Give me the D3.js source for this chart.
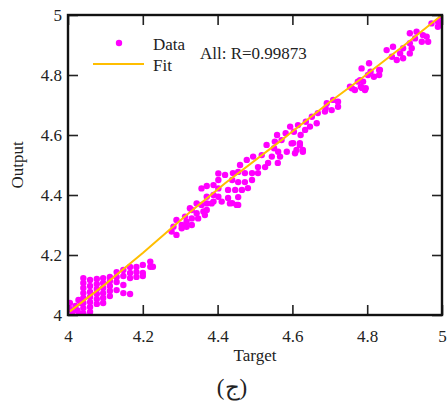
<!DOCTYPE html>
<html>
<head>
<meta charset="utf-8">
<script src="https://d3js.org/d3.v7.min.js"></script>
<style>
  body { margin: 0; background: #fff; }
  svg text { font-family: "Liberation Serif", "Times New Roman", serif; fill: #222; }
</style>
</head>
<body>
<svg id="chart" width="448" height="405"></svg>
<script>
// scatter values (target, output)
var dataTarget = [
  4.005,4.005,4.012,4.02,4.025,4.03,4.035,4.028,
  4.041,4.041,4.041,4.041,4.041,4.041,4.041,4.041,
  4.059,4.059,4.059,4.059,4.059,4.059,4.059,
  4.077,4.077,4.077,4.077,4.077,4.077,
  4.094,4.094,4.094,4.094,4.094,4.094,
  4.112,4.112,4.112,4.112,4.112,
  4.13,4.13,4.13,4.13,
  4.148,4.148,4.148,4.148,
  4.166,4.166,4.166,4.166,
  4.183,4.183,4.183,
  4.2,4.2,4.2,
  4.22,4.22,4.227,
  // 4.27 - 4.45
  4.277,4.282,4.29,4.29,4.304,4.304,4.313,4.317,4.317,4.326,
  4.331,4.331,4.331,4.344,4.344,4.348,4.357,4.357,4.362,4.366,
  4.371,4.371,4.371,4.371,4.384,4.389,4.389,4.389,4.402,4.402,
  4.402,4.402,4.411,4.433,4.451,
  // 4.42 - 4.63
  4.531,4.553,4.571,4.598,4.62,4.562,4.585,4.607,4.628,4.518,
  4.545,4.567,4.495,4.478,4.535,4.561,4.46,4.508,4.527,4.441,
  4.455,4.473,4.492,4.508,4.42,4.439,4.455,4.473,4.492,4.428,
  4.447,4.465,4.481,4.428,4.455,4.439,4.455,
  4.559,4.582,4.604,4.622,4.551,
  // 4.59 - 4.73
  4.594,4.615,4.634,4.647,4.665,4.652,4.668,4.687,4.692,4.709,
  4.722,4.722,4.705,4.602,4.62,4.611,4.628,4.636,4.689,
  // 4.75 - 4.84
  4.754,4.775,4.789,4.767,4.786,4.759,4.783,4.796,4.785,4.805,
  4.832,4.809,4.832,4.818,4.802,4.781,4.794,
  // 4.85 - 5
  4.999,4.989,4.972,4.998,4.989,4.914,4.932,4.949,4.959,4.928,
  4.946,4.963,4.914,4.869,4.852,4.896,4.919,4.888,4.914,4.896,
  4.866,4.879,4.834
];
var dataOutput = [
  4.04,4.02,4.01,4.03,4.015,4.005,4.04,4.05,
  4.123,4.107,4.09,4.073,4.057,4.04,4.023,4.005,
  4.117,4.097,4.077,4.06,4.043,4.027,4.01,
  4.12,4.103,4.087,4.07,4.053,4.037,
  4.123,4.107,4.09,4.073,4.057,4.04,
  4.127,4.113,4.097,4.08,4.063,
  4.143,4.127,4.11,4.083,
  4.15,4.13,4.1,4.073,
  4.16,4.14,4.123,4.07,
  4.16,4.143,4.127,
  4.167,4.14,4.13,
  4.178,4.161,4.161,
  // 4.27 - 4.45
  4.278,4.294,4.267,4.317,4.289,4.3,4.328,4.311,4.294,4.356,
  4.35,4.322,4.3,4.372,4.339,4.322,4.422,4.367,4.345,4.333,
  4.43,4.394,4.372,4.35,4.372,4.4,4.433,4.378,4.472,4.45,
  4.422,4.394,4.378,4.372,4.367,
  // 4.42 - 4.63
  4.567,4.578,4.583,4.572,4.567,4.544,4.544,4.539,4.544,4.533,
  4.528,4.528,4.528,4.517,4.507,4.507,4.5,4.493,4.493,4.473,
  4.477,4.473,4.473,4.473,4.467,4.45,4.443,4.443,4.45,4.417,
  4.417,4.417,4.423,4.39,4.393,4.373,4.367,
  4.6,4.606,4.611,4.6,4.556,
  // 4.59 - 4.73
  4.628,4.633,4.617,4.628,4.639,4.661,4.673,4.678,4.706,4.717,
  4.711,4.694,4.683,4.573,4.573,4.55,4.55,4.644,4.689,
  // 4.75 - 4.84
  4.761,4.778,4.778,4.75,4.757,4.756,4.761,4.756,4.822,4.839,
  4.817,4.811,4.8,4.794,4.8,4.783,4.75,
  // 4.85 - 5
  4.994,4.978,4.972,4.972,4.961,4.939,4.944,4.933,4.928,4.922,
  4.911,4.911,4.906,4.894,4.883,4.889,4.889,4.872,4.872,4.856,
  4.861,4.85,4.817
];

// fit line
var fitTarget = [4.005, 4.1, 4.166, 4.2, 4.317, 4.42, 4.571, 4.594, 4.7, 4.781, 4.9, 5.0];
var fitOutput = [4.012, 4.103, 4.172, 4.207, 4.333, 4.439, 4.583, 4.606, 4.71, 4.785, 4.9, 5.0];

var ticks = [4, 4.2, 4.4, 4.6, 4.8, 5];
var tickLabels = ["4", "4.2", "4.4", "4.6", "4.8", "5"];

var plotLeft = 68, plotTop = 15, w = 374, h = 300;
var fontSize = 17;

var svg = d3.select("#chart");

var x = d3.scaleLinear().domain([4, 5]).range([plotLeft, plotLeft + w]);
var y = d3.scaleLinear().domain([4, 5]).range([plotTop + h, plotTop]);

svg.append("clipPath").attr("id", "plotclip")
  .append("rect").attr("x", plotLeft).attr("y", plotTop).attr("width", w).attr("height", h);

var plot = svg.append("g").attr("clip-path", "url(#plotclip)");

var pts = dataTarget.map(function (t, i) { return { t: t, o: dataOutput[i] }; });

plot.selectAll("circle.pt")
  .data(pts)
  .enter()
  .append("circle")
  .attr("class", "pt")
  .attr("cx", function (d) { return x(d.t); })
  .attr("cy", function (d) { return y(d.o); })
  .attr("r", 3.2)
  .style("fill", "#ff00ff");

var fit = fitTarget.map(function (t, i) { return [t, fitOutput[i]]; });
plot.append("path")
  .datum(fit)
  .attr("d", d3.line().x(function (d) { return x(d[0]); }).y(function (d) { return y(d[1]); }))
  .style("fill", "none")
  .style("stroke", "#ffbe00")
  .style("stroke-width", 2);

// axes (ticks inward on all four sides)
function styleAxis(g) {
  g.select(".domain").remove();
  g.selectAll(".tick line").style("stroke", "#222").style("stroke-width", 1.6);
  g.selectAll("text").style("font-size", fontSize + "px").style("fill", "#222");
}

svg.append("g")
  .attr("transform", "translate(0," + (plotTop + h) + ")")
  .call(d3.axisBottom(x).tickValues(ticks).tickSize(-10).tickPadding(15)
    .tickFormat(function (d, i) { return tickLabels[i]; }))
  .call(styleAxis);

svg.append("g")
  .attr("transform", "translate(" + plotLeft + ",0)")
  .call(d3.axisLeft(y).tickValues(ticks).tickSize(-10).tickPadding(6)
    .tickFormat(function (d, i) { return tickLabels[i]; }))
  .call(styleAxis);

svg.append("g")
  .attr("transform", "translate(0," + plotTop + ")")
  .call(d3.axisTop(x).tickValues(ticks).tickSize(-10).tickFormat(""))
  .call(styleAxis);

svg.append("g")
  .attr("transform", "translate(" + (plotLeft + w) + ",0)")
  .call(d3.axisRight(y).tickValues(ticks).tickSize(-10).tickFormat(""))
  .call(styleAxis);

svg.append("rect")
  .attr("x", plotLeft).attr("y", plotTop).attr("width", w).attr("height", h)
  .style("fill", "none").style("stroke", "#111").style("stroke-width", 2.4);

// legend
svg.append("circle").attr("cx", 119).attr("cy", 43).attr("r", 3.2).style("fill", "#ff00ff");
svg.append("text").attr("x", 153).attr("y", 50).style("font-size", fontSize + "px").text("Data");
svg.append("line").attr("x1", 93).attr("x2", 144).attr("y1", 64).attr("y2", 64)
  .style("stroke", "#ffbe00").style("stroke-width", 2);
svg.append("text").attr("x", 153).attr("y", 71).style("font-size", fontSize + "px").text("Fit");
svg.append("text").attr("x", 200).attr("y", 59).style("font-size", fontSize + "px").text("All: R=0.99873");

// axis labels
svg.append("text")
  .attr("x", plotLeft + w / 2).attr("y", 361)
  .style("text-anchor", "middle").style("font-size", fontSize + "px")
  .text("Target");

svg.append("text")
  .attr("transform", "translate(23," + (plotTop + h / 2) + ") rotate(-90)")
  .style("text-anchor", "middle").style("font-size", fontSize + "px")
  .text("Output");

// caption
svg.append("text")
  .attr("x", 232).attr("y", 395)
  .style("text-anchor", "middle").style("font-size", "23px")
  .text("(ج)");
</script>
</body>
</html>
